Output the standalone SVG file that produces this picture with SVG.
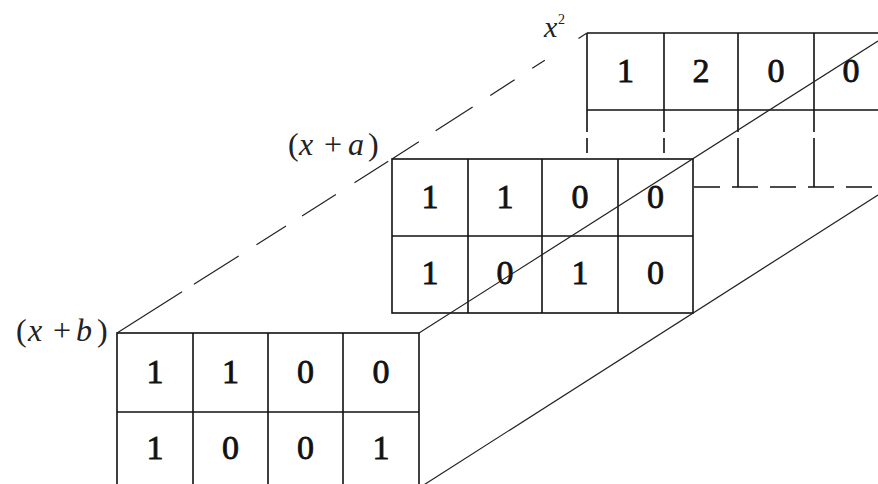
<svg xmlns="http://www.w3.org/2000/svg" width="878" height="484" viewBox="0 0 878 484">
<style>
.g{fill:none;stroke:#111;stroke-width:1.6}
.gf{fill:#fff;stroke:#111;stroke-width:1.6}
.d{fill:none;stroke:#111;stroke-width:1.6;stroke-dasharray:22 6 60}
.dh{fill:none;stroke:#111;stroke-width:1.6;stroke-dasharray:26 12}
.diag{fill:none;stroke:#222;stroke-width:1.2}
.n{font-family:'Liberation Serif',serif;font-size:34px;fill:#111;stroke:#111;stroke-width:0.8;text-anchor:middle}
.lb{font-family:'Liberation Serif',serif;font-size:32px;fill:#222}
.i{font-style:italic}
</style>
<rect width="878" height="484" fill="#fff"/>
<g id="grid-x2">
<path class="g" d="M587,33H878M587,110H878M587,33V110M664,33V110M738,33V110M814,33V110"/>
<path class="d" d="M587,110V153M664,110V153M738,110V187M814,110V187"/>
<path class="dh" d="M694,187H878"/>
<text class="n" x="625.5" y="82">1</text>
<text class="n" x="701" y="82">2</text>
<text class="n" x="776" y="82">0</text>
<text class="n" x="851" y="82">0</text>
<text class="lb" y="37"><tspan class="i" x="544" font-size="30">x</tspan><tspan x="558" y="24" font-size="14">2</tspan></text>
</g>
<g id="grid-xa">
<rect class="gf" x="392" y="159" width="301" height="154"/>
<path class="g" d="M392,236H693M468,159V313M542,159V313M618,159V313"/>
<text class="n" x="430" y="208">1</text>
<text class="n" x="505" y="208">1</text>
<text class="n" x="580" y="208">0</text>
<text class="n" x="655.5" y="208">0</text>
<text class="n" x="430" y="284">1</text>
<text class="n" x="505" y="284">0</text>
<text class="n" x="580" y="284">1</text>
<text class="n" x="655.5" y="284">0</text>
<text class="lb" y="155"><tspan x="288">(</tspan><tspan class="i" x="299">x</tspan><tspan x="324">+</tspan><tspan class="i" x="348">a</tspan><tspan x="368">)</tspan></text>
</g>
<g id="grid-xb">
<rect class="gf" x="117" y="333" width="302" height="160"/>
<path class="g" d="M117,412H419M193,333V493M268,333V493M343,333V493"/>
<text class="n" x="155" y="383">1</text>
<text class="n" x="230.5" y="383">1</text>
<text class="n" x="305.5" y="383">0</text>
<text class="n" x="381" y="383">0</text>
<text class="n" x="155" y="459">1</text>
<text class="n" x="230.5" y="459">0</text>
<text class="n" x="305.5" y="459">0</text>
<text class="n" x="381" y="459">1</text>
<text class="lb" y="341"><tspan x="16">(</tspan><tspan class="i" x="28">x</tspan><tspan x="53">+</tspan><tspan class="i" x="76">b</tspan><tspan x="97">)</tspan></text>
</g>
<g id="connectors">
<path class="diag" stroke-dasharray="77 14 53 21 35 19 40 22 40" d="M117,333L392,159"/>
<path class="diag" stroke-dasharray="32 20 44 21 29 21 15 20 0 20 30" d="M392,159L587,33"/>
<path class="diag" d="M419,333L878,41"/>
<path class="diag" d="M419,488L878,195"/>
</g>
</svg>
